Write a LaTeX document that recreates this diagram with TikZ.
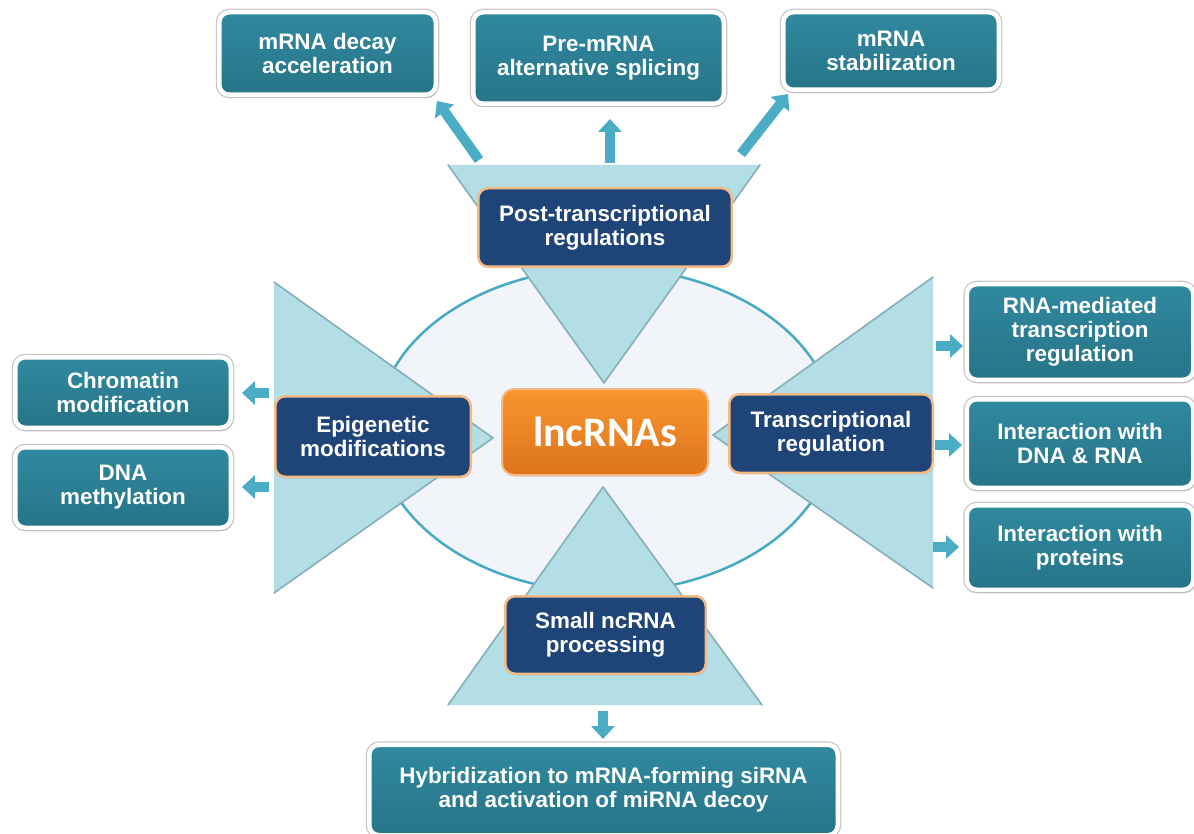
\documentclass[tikz,border=0pt]{standalone}
\usepackage{fontspec}
\setmainfont{Liberation Sans}
\newfontfamily\calfont{Carlito}
\usetikzlibrary{shadows,arrows.meta}
\definecolor{tealA}{HTML}{3089A0}
\definecolor{tealB}{HTML}{277487}
\definecolor{navyF}{HTML}{1F4578}
\definecolor{tanB}{HTML}{F3BA86}
\definecolor{oraA}{HTML}{F9962F}
\definecolor{oraB}{HTML}{DD741C}
\definecolor{oraL}{HTML}{F8B980}
\definecolor{triF}{HTML}{B3DEE6}
\definecolor{triE}{HTML}{86AEB8}
\definecolor{ellF}{HTML}{F1F5FA}
\definecolor{ellD}{HTML}{48A9C5}
\definecolor{arrC}{HTML}{4BACC6}
\begin{document}
\begin{tikzpicture}[x=1pt,y=-1pt,
  boxtext/.style={text=white, align=center, inner sep=0pt,
    font=\bfseries\fontsize{22.4}{24}\selectfont},
  tealbox/.style={boxtext, rounded corners=10pt, draw=white, line width=4.5pt,
    top color=tealA, bottom color=tealB,
    preaction={draw=black!22, line width=7pt},
    drop shadow={opacity=0.25, shadow xshift=1.5pt, shadow yshift=-3pt}},
  navybox/.style={boxtext, rounded corners=10pt, draw=tanB, line width=2.5pt,
    fill=navyF, drop shadow={opacity=0.3, shadow xshift=1pt, shadow yshift=-1.5pt}},
  tri/.style={fill=triF},
  triedge/.style={draw=triE, line width=1.6pt, line cap=round},
  blk/.style={draw=arrC, line width=10pt, -{Triangle[length=13pt,width=23pt]}}
]
\useasboundingbox (0,0) rectangle (1194,834);
\fill[white] (0,0) rectangle (1194,834);

% central ellipse
\draw[fill=ellF, draw=ellD, line width=2.5pt] (606,430) ellipse [x radius=229, y radius=162];

% triangles
\path[tri] (448,165) -- (760,165) -- (604,383) -- cycle;
\draw[triedge] (448,165) -- (604,383) -- (760,165);
\path[tri] (274,282) -- (274,593) -- (493,438) -- cycle;
\draw[triedge] (274,282) -- (493,438) -- (274,593);
\path[tri] (933,277) -- (933,588) -- (713,435) -- cycle;
\draw[triedge] (933,277) -- (713,435) -- (933,588);
\path[tri] (448,705) -- (762,705) -- (603,487) -- cycle;
\draw[triedge] (448,705) -- (603,487) -- (762,705);

% central node
\node[rounded corners=12pt, draw=oraL, line width=2pt, top color=oraA, bottom color=oraB,
  minimum width=206pt, minimum height=86pt, inner sep=0pt, text=white,
  font=\calfont\bfseries\fontsize{42}{46}\selectfont,
  drop shadow={opacity=0.3, shadow xshift=1pt, shadow yshift=-1.5pt}]
  (lnc) at (605,432) {lncRNAs};

% navy category boxes
\node[navybox, minimum width=253.5pt, minimum height=78.5pt] (post) at (605,227.5) {Post-transcriptional\\regulations};
\node[navybox, minimum width=195.5pt, minimum height=80.5pt] (epi) at (373,436.5) {Epigenetic\\modifications};
\node[navybox, minimum width=203.5pt, minimum height=78.5pt] (trans) at (831,433.5) {Transcriptional\\regulation};
\node[navybox, minimum width=200.5pt, minimum height=77.5pt] (small) at (605.5,635) {Small ncRNA\\processing};

% teal outcome boxes
\node[tealbox, minimum width=216.5pt, minimum height=82.5pt] (decay) at (327.5,53.5) {mRNA decay\\acceleration};
\node[tealbox, minimum width=250.5pt, minimum height=91.5pt] (splice) at (598.5,58) {Pre-mRNA\\alternative splicing};
\node[tealbox, minimum width=215.5pt, minimum height=77.5pt] (stab) at (891,51) {mRNA\\stabilization};
\node[tealbox, minimum width=215.5pt, minimum height=70.5pt] (chrom) at (123,392.5) {Chromatin\\modification};
\node[tealbox, minimum width=215.5pt, minimum height=80.5pt] (meth) at (123,487.5) {DNA\\methylation};
\node[tealbox, minimum width=226.5pt, minimum height=95.5pt] (rnamed) at (1080,332) {RNA-mediated\\transcription\\regulation};
\node[tealbox, minimum width=226.5pt, minimum height=88.5pt] (dnarna) at (1080,443.5) {Interaction with\\DNA \& RNA};
\node[tealbox, minimum width=226.5pt, minimum height=84.5pt] (prot) at (1080,547.5) {Interaction with\\proteins};
\node[tealbox, minimum width=468.5pt, minimum height=90.5pt] (hyb) at (603.5,790) {Hybridization to mRNA-forming siRNA\\and activation of miRNA decoy};

% arrow end points
\coordinate (t1) at (479,160); \coordinate (h1) at (437,101);
\coordinate (t2) at (610,163); \coordinate (h2) at (610,119);
\coordinate (t3) at (741,154); \coordinate (h3) at (788,94);
\coordinate (t4) at (269,393); \coordinate (h4) at (242,393);
\coordinate (t5) at (269,487); \coordinate (h5) at (242,487);
\coordinate (t6) at (936,346); \coordinate (h6) at (963,346);
\coordinate (t7) at (935,445); \coordinate (h7) at (962,445);
\coordinate (t8) at (933,547); \coordinate (h8) at (959,547);
\coordinate (t9) at (603,711); \coordinate (h9) at (603,739);

\foreach \i in {1,...,9} { \draw[blk] (t\i) -- (h\i); }
\end{tikzpicture}
\end{document}
